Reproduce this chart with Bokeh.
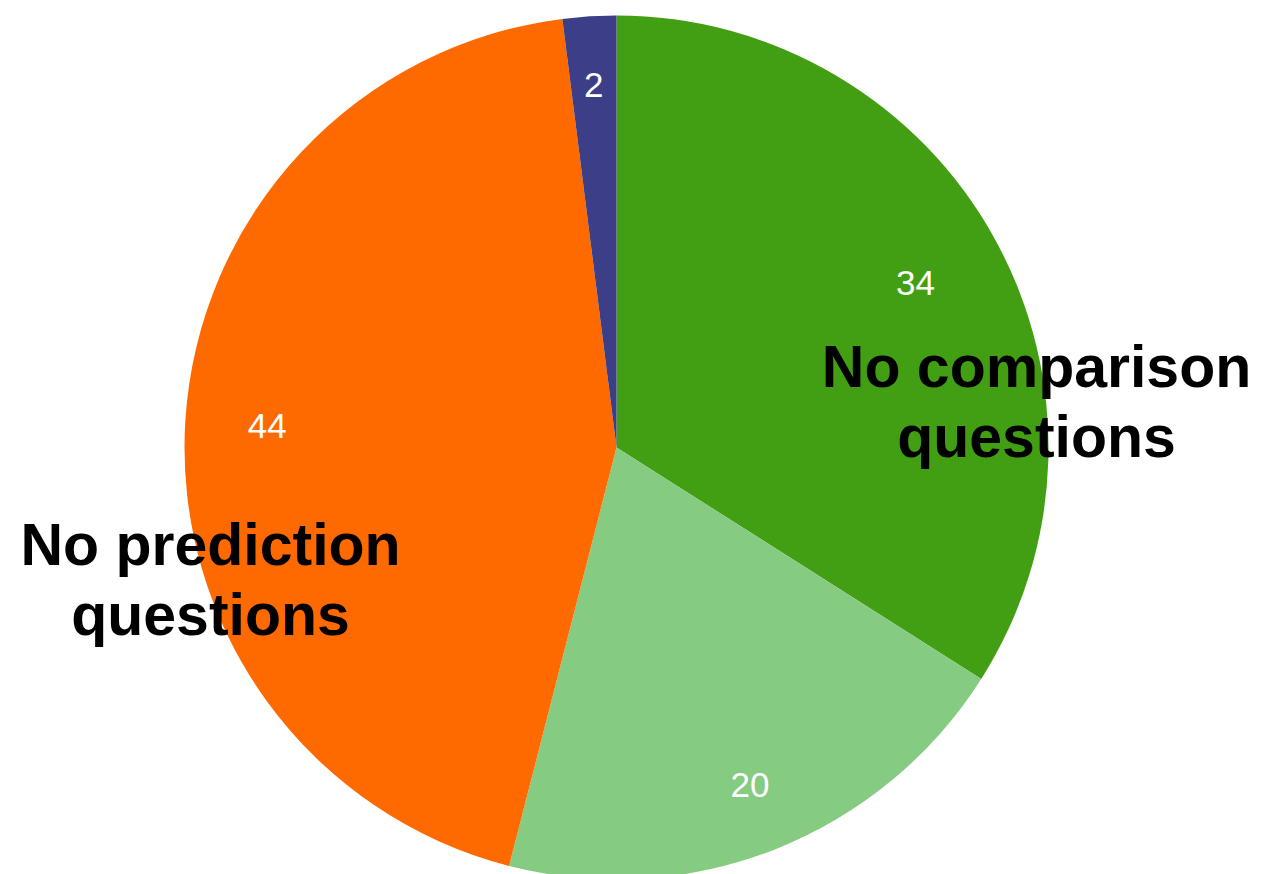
import math
from bokeh.plotting import figure
from bokeh.models import Range1d, ColumnDataSource
from bokeh.core.properties import value
from bokeh.embed import file_html
from bokeh.resources import INLINE

# ---- data ----
categories = ["No comparison questions", "Some comparison", "No prediction questions", "Other"]
values = [34, 20, 44, 2]
colors = ["#429E12", "#86CB82", "#FF6A00", "#3C3F87"]
big_labels = {0: ["No comparison", "questions"], 2: ["No prediction", "questions"]}

# ---- layout / style ----
W, H = 1282, 874
CX, CY, R = 616, 427, 432
LABEL_R = [0.79, 0.84, 0.81, 0.84]

p = figure(width=W, height=H, output_backend="svg", toolbar_location=None,
           x_range=Range1d(0, W), y_range=Range1d(0, H), min_border=0)
p.axis.visible = False
p.grid.visible = False
p.outline_line_color = None
p.background_fill_color = "white"
p.border_fill_color = "white"

total = float(sum(values))
starts, ends, mids = [], [], []
cum = 0.0
for v in values:
    a0 = math.pi / 2 - 2 * math.pi * cum / total
    cum += v
    a1 = math.pi / 2 - 2 * math.pi * cum / total
    starts.append(a0)
    ends.append(a1)
    mids.append((a0 + a1) / 2)

src = ColumnDataSource(dict(start=starts, end=ends, color=colors, cat=categories, val=values))
p.wedge(x=CX, y=CY, radius=R, start_angle="start", end_angle="end", direction="clock",
        fill_color="color", line_color=None, source=src)

lx = [CX + R * f * math.cos(m) for f, m in zip(LABEL_R, mids)]
ly = [CY + R * f * math.sin(m) for f, m in zip(LABEL_R, mids)]
p.text(x=lx, y=ly, text=[str(v) for v in values], text_color="white",
       text_font=value("Liberation Sans"), text_font_size="35px",
       text_align="center", text_baseline="middle")

# big category labels
big_pos = {0: (1036, 508), 2: (210, 330)}
for i, lines in big_labels.items():
    bx, by = big_pos[i]
    p.text(x=[bx, bx], y=[by, by - 70], text=lines, text_color="black",
           text_font=value("Liberation Sans"), text_font_size="59px",
           text_font_style="bold", text_align="center", text_baseline="alphabetic")

open("out.html", "w").write(file_html(p, INLINE))
